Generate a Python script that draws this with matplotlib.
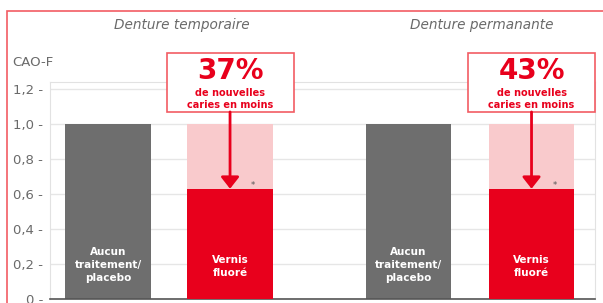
import matplotlib
matplotlib.use('Agg')
import matplotlib.pyplot as plt
from matplotlib.patches import Rectangle

# ---------------------------------------------------------------------------
# data
groups = ['Denture temporaire', 'Denture permanante']
bar_labels = ['Aucun\ntraitement/\nplacebo', 'Vernis\nfluoré']
control = [1.0, 1.0]
varnish = [0.63, 0.63]
reduction = ['37%', '43%']
yticks = [0, 0.2, 0.4, 0.6, 0.8, 1.0, 1.2]

# ---------------------------------------------------------------------------
GREY = '#6e6e6e'
RED = '#e8001c'
PINK = '#f9cacc'
FRAME = '#f25c63'
TXT = '#6a6a6a'

fig = plt.figure(figsize=(6.03, 3.03), dpi=100)
ax = fig.add_axes([50 / 603, 4 / 303, 545 / 603, 217 / 303])

ctrl_x = [0, 2.46]
vern_x = [1, 3.47]
w = 0.70

ax.bar(ctrl_x, control, width=w, color=GREY, zorder=2)
ax.bar(vern_x, control, width=w, color=PINK, zorder=2)
ax.bar(vern_x, varnish, width=w, color=RED, zorder=3)

for i in range(2):
    ax.text(ctrl_x[i], 0.195, bar_labels[0], color='white', fontsize=7.5,
            fontweight='bold', ha='center', va='center', linespacing=1.4,
            zorder=4)
    ax.text(vern_x[i], 0.185, bar_labels[1], color='white', fontsize=7.5,
            fontweight='bold', ha='center', va='center', linespacing=1.4,
            zorder=4)

    # annotation box
    xc = vern_x[i]
    ax.add_patch(Rectangle((xc - 0.52, 1.069), 1.04, 0.337, facecolor='white',
                           edgecolor=FRAME, lw=1.2, clip_on=False, zorder=5))
    ax.text(xc, 1.305, reduction[i], color=RED, fontsize=20, fontweight='bold',
            ha='center', va='center', zorder=6, clip_on=False)
    ax.text(xc, 1.143, 'de nouvelles\ncaries en moins', color=RED, fontsize=7,
            fontweight='bold', ha='center', va='center', linespacing=1.3,
            zorder=6, clip_on=False)
    ax.annotate('', xy=(xc, varnish[i]), xytext=(xc, 1.069),
                arrowprops=dict(arrowstyle='-|>,head_length=0.7,head_width=0.55',
                                color=RED, lw=2.0, shrinkA=0, shrinkB=0),
                zorder=6, annotation_clip=False)
    ax.text(xc + 0.19, varnish[i] + 0.02, '*', color='#555555', fontsize=6,
            ha='center', va='center', zorder=6)

ax.set_xlim(-0.475, 3.99)
ax.set_ylim(0, 1.24)
ax.set_yticks(yticks)
ax.set_yticklabels([f'{v:.1f}'.replace('.', ',') + ' -' if v else '0 -'
                    for v in yticks])
ax.tick_params(axis='y', length=0, pad=5, labelsize=9.5, labelcolor=TXT)
ax.set_xticks([])
ax.grid(axis='y', color='#e6e6e6', lw=1.0, zorder=0)
ax.set_axisbelow(True)
for side in ['left', 'right', 'top']:
    ax.spines[side].set_color('#e2e2e2')
ax.spines['bottom'].set_color('#555555')
ax.spines['bottom'].set_linewidth(1.2)

# titles and y label
fig.text(182 / 603, 1 - 25 / 303, groups[0], style='italic', color=TXT,
         fontsize=9.8, ha='center', va='center')
fig.text(482 / 603, 1 - 25 / 303, groups[1], style='italic', color=TXT,
         fontsize=9.8, ha='center', va='center')
fig.text(12 / 603, 1 - 63 / 303, 'CAO-F', color=TXT, fontsize=9.5,
         ha='left', va='center')

# outer red frame
fig.patches.append(Rectangle((7 / 603, -0.1), 1.2, 1 - 11 / 303 + 0.1,
                             transform=fig.transFigure, fill=False,
                             edgecolor=FRAME, lw=1.2))

fig.savefig('out.png', dpi=100)
